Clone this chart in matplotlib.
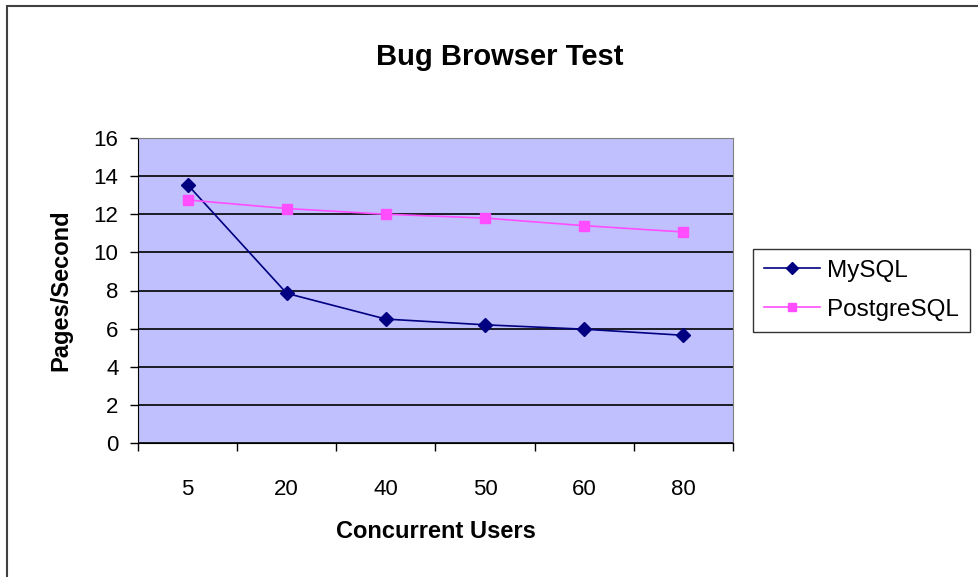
import matplotlib.pyplot as plt
from matplotlib.patches import Rectangle

# data
users = ["5", "20", "40", "50", "60", "80"]
mysql = [13.55, 7.85, 6.5, 6.2, 5.97, 5.65]
postgres = [12.75, 12.3, 12.0, 11.8, 11.4, 11.07]

plt.rcParams['font.family'] = ['Liberation Sans', 'DejaVu Sans']

fig = plt.figure(figsize=(9.79, 5.77), dpi=100)
ax = fig.add_axes([138 / 979, 1 - 443 / 577, 595 / 979, 305 / 577])
ax.set_facecolor('#c0c0ff')

x = list(range(len(users)))
ax.plot(x, mysql, color='#000080', marker='D', markersize=7, lw=1.2, label='MySQL')
ax.plot(x, postgres, color='#ff4dff', marker='s', markersize=7, lw=1.2, label='PostgreSQL')

ax.set_ylim(0, 16)
ax.set_yticks(range(0, 17, 2))
ax.yaxis.grid(True, color='black', lw=1.2)
ax.set_axisbelow(True)
ax.tick_params(axis='y', direction='out', length=6, width=1, labelsize=16, pad=8)

ax.set_xlim(-0.5, len(users) - 0.5)
ax.set_xticks([i - 0.5 for i in range(len(users) + 1)])
ax.set_xticklabels([])
ax.set_xticks(x, minor=True)
ax.set_xticklabels(users, minor=True)
ax.tick_params(axis='x', which='major', direction='out', length=6, width=1)
ax.tick_params(axis='x', which='minor', length=0, labelsize=16, pad=26)

for side in ['left', 'bottom']:
    ax.spines[side].set_color('black')
for side in ['top', 'right']:
    ax.spines[side].set_color('#808080')

ax.set_ylabel('Pages/Second', fontsize=17, fontweight='bold', labelpad=15)
ax.set_xlabel('Concurrent Users', fontsize=17, fontweight='bold', labelpad=14)
fig.text(500 / 979, 1 - 57 / 577, 'Bug Browser Test', fontsize=21, fontweight='bold',
         ha='center', va='center')

leg = ax.legend(loc='upper left', bbox_to_anchor=(753 / 979, 1 - 249 / 577),
                bbox_transform=fig.transFigure, frameon=True, fancybox=False,
                fontsize=17.5, handlelength=2.3, markerscale=0.85, borderpad=0.45,
                borderaxespad=0, labelspacing=0.7, handletextpad=0.3)
leg.get_frame().set_edgecolor('black')
leg.get_frame().set_linewidth(1)

# outer chart border (runs off the image on the right and bottom)
fig.patches.append(Rectangle((7 / 979, -0.1), 1.2, 1 - 6 / 577 + 0.1,
                             transform=fig.transFigure, fill=False,
                             edgecolor='#404040', lw=1.5))

fig.savefig('out.png', dpi=100)
